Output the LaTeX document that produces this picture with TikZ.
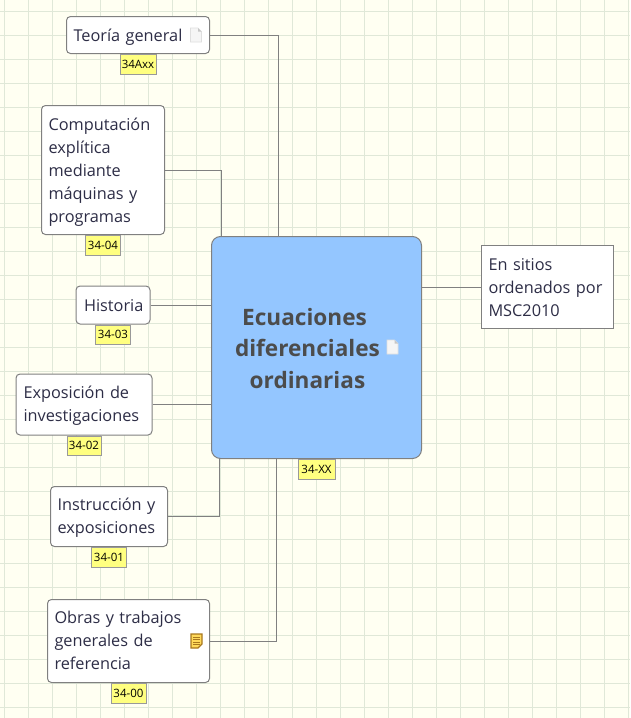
\documentclass[tikz,border=0pt]{standalone}
\usepackage{fontspec}
\setmainfont{Open Sans}
\usetikzlibrary{positioning}
\definecolor{paper}{RGB}{255,255,242}
\definecolor{gridline}{RGB}{224,232,216}
\definecolor{edge}{RGB}{128,128,128}
\definecolor{ink}{RGB}{45,45,70}
\definecolor{centre}{RGB}{148,198,255}
\definecolor{tagfill}{RGB}{255,255,128}
\definecolor{notegold}{RGB}{168,120,30}
\tikzset{
  topic/.style={draw=edge, fill=white, rounded corners=4pt, line width=1pt, text=ink,
    inner sep=0pt, align=left, font=\fontsize{16.3}{23}\selectfont},
  textdrop/.style={execute at begin node={\rule{0pt}{#1}}},
  textlift/.style={execute at end node={\rule[-#1]{0pt}{#1}}},
  tagbox/.style={draw=edge!80, fill=tagfill, line width=1pt, inner sep=0pt, text=black,
    minimum height=19.5pt, font=\fontsize{11.5}{14}\selectfont, below=0pt of #1},
  link/.style={draw=edge, line width=1pt},
  pagesign/.pic={
    \fill[white!92!gray, draw=gray!25, line width=.6pt] (-5.5,-7) -- (2,-7) -- (5.5,-3.5) -- (5.5,7) -- (-5.5,7) -- cycle;
    \fill[gray!45] (2,-7) -- (2,-3.5) -- (5.5,-3.5) -- cycle;
  },
  notesign/.pic={
    \fill[tagfill!70!orange, draw=notegold, line width=1.2pt] (-5.5,-7) -- (5.5,-7) -- (5.5,3) -- (1.5,7) -- (-5.5,7) -- cycle;
    \foreach \rowy in {-4,-1.5,1,3.5} \draw[notegold, line width=.8pt] (-3.5,\rowy) -- (3.5,\rowy);
  }
}
\begin{document}
\begin{tikzpicture}[x=1pt, y=-1pt]
  \useasboundingbox (0,0) rectangle (630,718);
  \fill[paper] (0,0) rectangle (630,718);
  \foreach \gridx in {0,...,26} \draw[gridline, line width=1.2pt] (4.5+24*\gridx,0) -- (4.5+24*\gridx,718);
  \foreach \gridy in {0,...,29} \draw[gridline, line width=1.2pt] (0,11.5+24*\gridy) -- (630,11.5+24*\gridy);

  \node[draw=edge, fill=centre, rounded corners=9pt, line width=1pt, minimum width=210pt, minimum height=222pt]
    (central) at (316.5,347.5) {};
  \node[text=black!70, font=\fontsize{22.6}{31.5}\bfseries\selectfont, align=center, inner sep=0pt]
    (centraltext) at (307.5,348.5) {Ecuaciones\hspace*{6pt}\\diferenciales\\ordinarias};

  \node[topic, textdrop=16.4pt, minimum width=143pt, minimum height=37pt, text width=129pt] (teoria) at (138,35) {Teoría general};
  \node[topic, textdrop=16.4pt, minimum width=123pt, minimum height=129pt, text width=109pt] (compu) at (103,170)
    {Computación\\explítica\\mediante\\máquinas y\\programas};
  \node[topic, textdrop=13.4pt, minimum width=74pt, minimum height=38pt, text width=58pt] (historia) at (113,305) {Historia};
  \node[topic, textdrop=14.4pt, minimum width=136pt, minimum height=61pt, text width=121pt] (exposicion) at (84,404.5)
    {Exposición de\\investigaciones};
  \node[topic, textdrop=14.4pt, minimum width=117pt, minimum height=60pt, text width=103pt] (instruccion) at (109,516.5)
    {Instrucción y\\exposiciones};
  \node[topic, textlift=2pt, minimum width=162pt, minimum height=83pt, text width=148pt] (obras) at (128.5,641)
    {Obras y trabajos\\generales de\\referencia};
  \node[topic, textdrop=13.4pt, rounded corners=0pt, minimum width=132pt, minimum height=83pt, text width=118pt] (sitios) at (547.5,287)
    {En sitios\\ordenados por\\MSC2010};

  \node[tagbox=teoria, minimum width=36pt] (tagteoria) {34Axx};
  \node[tagbox=compu, minimum width=35pt] (tagcompu) {34-04};
  \node[tagbox=historia, minimum width=35pt] (taghistoria) {34-03};
  \node[tagbox=exposicion, minimum width=34pt] (tagexposicion) {34-02};
  \node[tagbox=instruccion, minimum width=35pt] (taginstruccion) {34-01};
  \node[tagbox=obras, minimum width=35pt] (tagobras) {34-00};
  \node[tagbox=central, minimum width=37pt] (tagcentral) {34-XX};

  \draw[link] (teoria.east) -| ([xshift=-38.5pt]central.north);
  \draw[link] (compu.east) -| ([xshift=-95.5pt]central.north);
  \draw[link] (historia.east) -- (historia.east -| central.west);
  \draw[link] (exposicion.east) -- (exposicion.east -| central.west);
  \draw[link] (instruccion.east) -| ([xshift=-97.5pt]central.south);
  \draw[link] (obras.east) -| ([xshift=-40.5pt]central.south);
  \draw[link] (central.east |- sitios.west) -- (sitios.west);

  \pic at (196,35) {pagesign};
  \pic at (392.5,347) {pagesign};
  \pic at (196.5,641) {notesign};
\end{tikzpicture}
\end{document}
